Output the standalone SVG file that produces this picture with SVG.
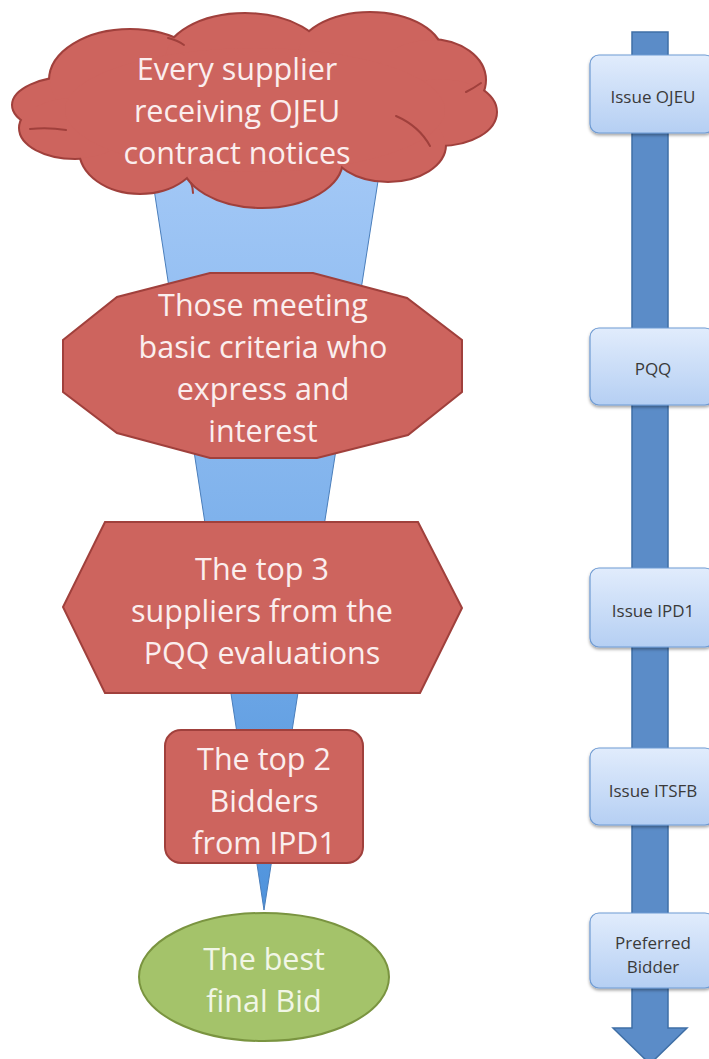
<svg xmlns="http://www.w3.org/2000/svg" width="709" height="1059" viewBox="0 0 709 1059">
<defs>
  <linearGradient id="funnelGrad" x1="0" y1="130" x2="0" y2="910" gradientUnits="userSpaceOnUse">
    <stop offset="0" stop-color="#a6caf7"/>
    <stop offset="0.5" stop-color="#7fb2ec"/>
    <stop offset="1" stop-color="#4f93dc"/>
  </linearGradient>
  <linearGradient id="boxGrad" x1="0" y1="0" x2="0" y2="1">
    <stop offset="0" stop-color="#e1ecfc"/>
    <stop offset="1" stop-color="#b5cff3"/>
  </linearGradient>
  <filter id="shadow" x="-20%" y="-20%" width="140%" height="150%">
    <feDropShadow dx="0" dy="2" stdDeviation="1.5" flood-color="#000" flood-opacity="0.35"/>
  </filter>
  <style>
    .red { fill: #cd645e; stroke: #a0403c; stroke-width: 2; }
    .big { font-family: "Open Sans", "Liberation Sans", sans-serif; font-size: 30.5px; fill: #fbeeee; text-anchor: middle; }
    .green-text { fill: #f1f6e6; }
    .small { font-family: "Open Sans", "Liberation Sans", sans-serif; font-size: 17px; fill: #3a3a3a; text-anchor: middle; }
    .box { fill: url(#boxGrad); stroke: #6f9bd3; stroke-width: 1.2; filter: url(#shadow); }
    .lobeS { fill: #cd645e; stroke: #a0403c; stroke-width: 4; }
    .lobeF { fill: #cd645e; }
    .inner { fill: none; stroke: #a0403c; stroke-width: 2; stroke-linecap: round; }
  </style>
</defs>
<rect width="709" height="1059" fill="#ffffff"/>

<g id="connectors">
  <polygon id="funnel" points="145,130 386,130 264,910" fill="url(#funnelGrad)" stroke="#4a7ebb" stroke-width="1"/>
  <path id="timeline-arrow" d="M632,32 H668 V1028 H687 L650,1064 L613,1028 H632 Z" fill="#5b8cc8" stroke="#3f6fa6" stroke-width="1.5"/>
</g>

<g id="node-cloud">
  <g>
    <ellipse class="lobeS" cx="75" cy="105" rx="62" ry="28"/>
    <ellipse class="lobeS" cx="130" cy="80" rx="80" ry="50"/>
    <ellipse class="lobeS" cx="245" cy="60" rx="80" ry="46"/>
    <ellipse class="lobeS" cx="370" cy="55" rx="72" ry="42"/>
    <ellipse class="lobeS" cx="430" cy="80" rx="55" ry="40"/>
    <ellipse class="lobeS" cx="440" cy="112" rx="56" ry="33"/>
    <ellipse class="lobeS" cx="388" cy="145" rx="57" ry="36"/>
    <ellipse class="lobeS" cx="262" cy="160" rx="80" ry="47"/>
    <ellipse class="lobeS" cx="140" cy="150" rx="60" ry="43"/>
    <ellipse class="lobeS" cx="75" cy="128" rx="55" ry="30"/>
  </g>
  <g>
    <ellipse class="lobeF" cx="75" cy="105" rx="62" ry="28"/>
    <ellipse class="lobeF" cx="130" cy="80" rx="80" ry="50"/>
    <ellipse class="lobeF" cx="245" cy="60" rx="80" ry="46"/>
    <ellipse class="lobeF" cx="370" cy="55" rx="72" ry="42"/>
    <ellipse class="lobeF" cx="430" cy="80" rx="55" ry="40"/>
    <ellipse class="lobeF" cx="440" cy="112" rx="56" ry="33"/>
    <ellipse class="lobeF" cx="388" cy="145" rx="57" ry="36"/>
    <ellipse class="lobeF" cx="262" cy="160" rx="80" ry="47"/>
    <ellipse class="lobeF" cx="140" cy="150" rx="60" ry="43"/>
    <ellipse class="lobeF" cx="75" cy="128" rx="55" ry="30"/>
    <ellipse class="lobeF" cx="255" cy="110" rx="190" ry="62"/>
  </g>
  <path class="inner" d="M168,38 Q177,40 184,45"/>
  <path class="inner" d="M466,92 Q474,88 481,83"/>
  <path class="inner" d="M396,116 Q419,126 430,146"/>
  <path class="inner" d="M191,183 Q193,188 193,193"/>
  <path class="inner" d="M30,129 Q48,127 66,130"/>
  <text class="big" x="237" y="80">Every supplier</text>
  <text class="big" x="237" y="122">receiving OJEU</text>
  <text class="big" x="237" y="164">contract notices</text>
</g>

<g id="node-interest">
  <polygon class="red" points="210,273 313,273 407,298 462,340 462,392 408,435 317,458 210,458 117,433 63,392 63,340 117,297"/>
  <text class="big" x="263" y="316">Those meeting</text>
  <text class="big" x="263" y="358">basic criteria who</text>
  <text class="big" x="263" y="400">express and</text>
  <text class="big" x="263" y="442">interest</text>
</g>

<g id="node-top3">
  <polygon class="red" points="105,522 418,522 462,608 420,693 105,693 63,607"/>
  <text class="big" x="262" y="580">The top 3</text>
  <text class="big" x="262" y="622">suppliers from the</text>
  <text class="big" x="262" y="664">PQQ evaluations</text>
</g>

<g id="node-top2">
  <rect class="red" x="165" y="730" width="198" height="133" rx="16"/>
  <text class="big" x="264" y="770">The top 2</text>
  <text class="big" x="264" y="812">Bidders</text>
  <text class="big" x="264" y="854">from IPD1</text>
</g>

<g id="node-best">
  <ellipse cx="264" cy="977" rx="125" ry="64" fill="#a4c36a" stroke="#7a9440" stroke-width="2"/>
  <text class="big green-text" x="264" y="970">The best</text>
  <text class="big green-text" x="264" y="1012">final Bid</text>
</g>

<g id="step-ojeu">
  <rect class="box" x="590" y="55" width="124" height="78" rx="9"/>
  <text class="small" x="653" y="103">Issue OJEU</text>
</g>
<g id="step-pqq">
  <rect class="box" x="590" y="328" width="124" height="77" rx="9"/>
  <text class="small" x="653" y="375">PQQ</text>
</g>
<g id="step-ipd1">
  <rect class="box" x="590" y="568" width="124" height="79" rx="9"/>
  <text class="small" x="653" y="617">Issue IPD1</text>
</g>
<g id="step-itsfb">
  <rect class="box" x="590" y="748" width="124" height="77" rx="9"/>
  <text class="small" x="653" y="797">Issue ITSFB</text>
</g>
<g id="step-preferred">
  <rect class="box" x="590" y="913" width="124" height="75" rx="9"/>
  <text class="small" x="653" y="949">Preferred</text>
  <text class="small" x="653" y="973">Bidder</text>
</g>
</svg>
